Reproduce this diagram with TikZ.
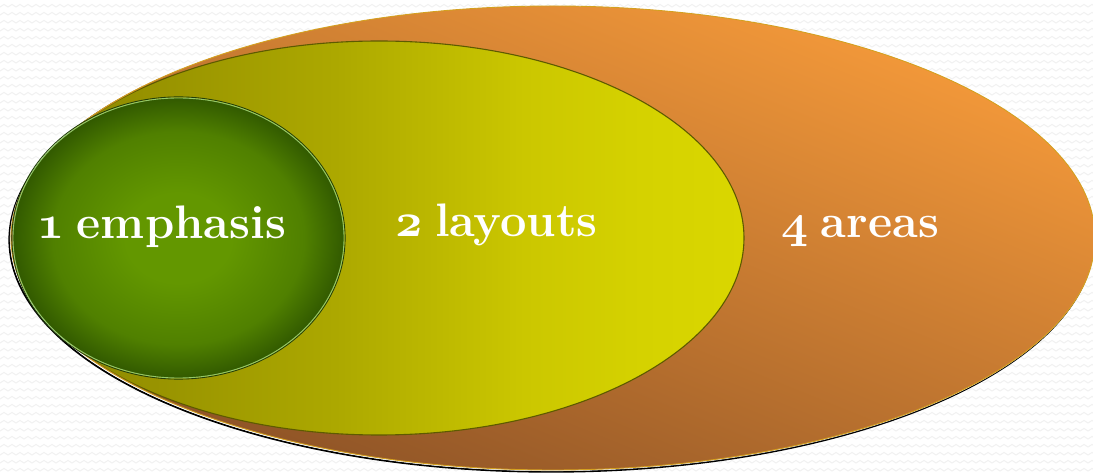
\RequirePackage{fix-cm}
\documentclass[tikz,border=0pt]{standalone}
\usetikzlibrary{calc}
\definecolor{orTop}{HTML}{F59A3A}
\definecolor{orMid}{HTML}{EA8F35}
\definecolor{orBot}{HTML}{8C5226}
\definecolor{orEdge}{HTML}{D4A020}
\definecolor{ye0}{HTML}{837D00}
\definecolor{ye1}{HTML}{979200}
\definecolor{ye2}{HTML}{ACA800}
\definecolor{ye3}{HTML}{CBC700}
\definecolor{ye4}{HTML}{D5D200}
\definecolor{ye5}{HTML}{DAD700}
\definecolor{yeEdge}{HTML}{5E5A00}
\definecolor{gr0}{HTML}{639700}
\definecolor{gr1}{HTML}{508000}
\definecolor{gr2}{HTML}{325A00}
\definecolor{grLight}{HTML}{94C86A}
\definecolor{grDark}{HTML}{22400A}
\definecolor{zig}{HTML}{F1F1F1}
\pgfdeclarehorizontalshading{yellowgrad}{100bp}{color(0bp)=(ye0); color(25bp)=(ye0); color(34bp)=(ye1); color(47bp)=(ye2); color(60bp)=(ye3); color(68bp)=(ye4); color(75bp)=(ye5); color(100bp)=(ye5)}
\pgfdeclareradialshading{greenball}{\pgfpoint{0bp}{0bp}}{color(0bp)=(gr0); color(8bp)=(gr0); color(19bp)=(gr1); color(25bp)=(gr2); color(50bp)=(gr2)}
\newcommand{\osn}[1]{$\mathnormal{#1}$\hspace{0.27em}}
\tikzset{
  lbl/.style={text=white, font=\fontsize{47}{52}\selectfont\bfseries\boldmath, anchor=base, inner sep=0pt},
  bgzig/.style={draw=zig, line width=1pt}
}
\begin{document}
\begin{tikzpicture}[x=1pt,y=1pt]
\useasboundingbox (0,0) rectangle (1093,474);
\fill[white] (0,0) rectangle (1093,474);
% faint zigzag background
\foreach \j in {0,...,59}{
  \draw[bgzig] (0,{8*\j+3}) \foreach \i in {1,...,137}{ -- ({8*\i-4},{8*\j+5.5}) -- ({8*\i},{8*\j+3}) };
}
% shadow edge of the outer ellipse
\draw[black, line width=1.8pt] (551.3,234.2) ellipse [x radius=542, y radius=232];
\draw[white, line width=0.5pt] (552.2,235.2) ellipse [x radius=542, y radius=232];
% outer orange ellipse
\shadedraw[top color=orTop, middle color=orMid, bottom color=orBot, shading angle=-22, draw=orEdge, line width=0.9pt]
  (553,236) ellipse [x radius=542, y radius=232];
% yellow ellipse, clipped to the orange one
\begin{scope}
  \clip (553,236) ellipse [x radius=541, y radius=231];
  \shadedraw[shading=yellowgrad, draw=yeEdge, line width=1.1pt]
    (379,236) ellipse [x radius=365, y radius=197];
\end{scope}
% green ellipse
\draw[grDark, line width=0.9pt] (178.5,236) ellipse [x radius=166.6, y radius=141.1];
\shadedraw[shading=greenball, draw=grLight, line width=0.9pt]
  (178.5,236) ellipse [x radius=165.5, y radius=140];
% labels
\node[lbl] (t1) at (161.5,235) {\osn{1}emphasis};
\node[lbl] (t2) at (496.5,237) {\osn{2}layouts};
\node[lbl] (t4) at (860,236) {\osn{4}areas};
\end{tikzpicture}
\end{document}
